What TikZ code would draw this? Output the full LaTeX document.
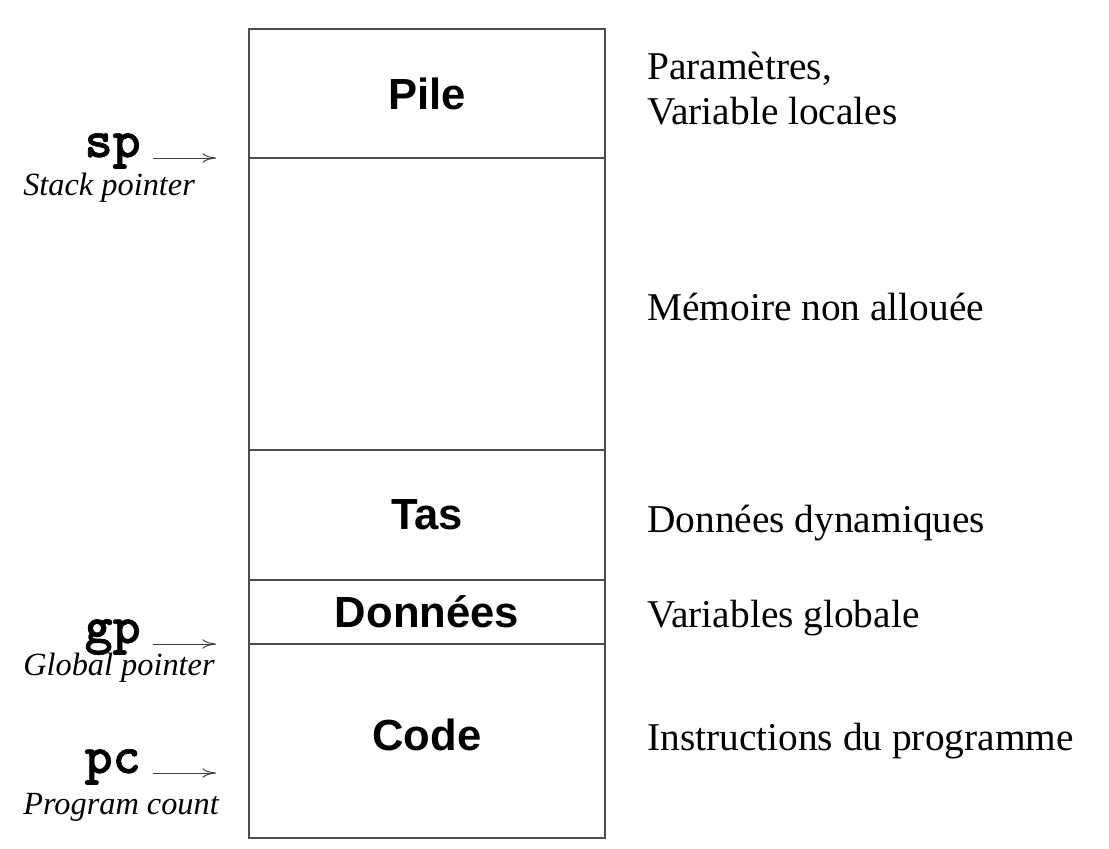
\documentclass[tikz,border=0pt]{standalone}
\usepackage{fontspec}
\setmainfont{Liberation Serif}
\setsansfont{Liberation Sans}
\newfontfamily\regfont[FakeBold=1.2]{lmmonolt10-bold.otf}
\usetikzlibrary{arrows.meta, positioning}

\begin{document}
\begin{tikzpicture}[
  x=0.025cm, y=-0.025cm,
  case/.style={
    draw=black!70, line width=0.9pt,
    minimum width=8.9cm, inner sep=0pt,
    font=\sffamily\bfseries\fontsize{31}{36}\selectfont
  },
  zone/.style={
    anchor=base west, align=left, inner sep=0pt,
    font=\rmfamily\fontsize{28}{32}\selectfont
  },
  registre/.style={
    anchor=base east, inner sep=0pt,
    font=\regfont\fontsize{38}{42}\selectfont
  },
  nomreg/.style={
    anchor=base west, inner sep=0pt,
    font=\rmfamily\itshape\fontsize{23}{26}\selectfont
  },
  fleche/.style={
    arrows={-To[length=3.4mm, width=2.4mm]},
    draw=black!75, line width=0.7pt
  }
]
\useasboundingbox (0,0) rectangle (1109,848);

% ----- Memoire -----
\node[case, minimum height=3.225cm] (pile) at (427, 93.5) {Pile};
\node[case, minimum height=7.3cm] (libre) at (427, 304) {};
\node[case, minimum height=3.25cm] (tas) at (427, 515) {Tas};
\node[case, minimum height=1.6cm] (donnees) at (427, 612) {Données};
\node[case, minimum height=4.85cm, text depth=0.3cm] (code) at (427, 741) {Code};

% ----- Description des zones -----
\node[zone] (param) at (647, 124) {Paramètres,\\Variable locales};
\node[zone] (nonalloc) at (647, 320) {Mémoire non allouée};
\node[zone] (dyn) at (647, 532) {Données dynamiques};
\node[zone] (glob) at (647, 627) {Variables globale};
\node[zone] (instr) at (647, 750) {Instructions du programme};

% ----- Registres -----
\node[registre] (sp) at (141, 157) {sp};
\node[nomreg] (spnom) at (23, 195) {Stack pointer};
\node[registre] (gp) at (141, 643) {gp};
\node[nomreg] (gpnom) at (23, 675) {Global pointer};
\node[registre] (pc) at (141, 773) {pc};
\node[nomreg] (pcnom) at (23, 814) {Program count};

\coordinate (spfin) at (216, 158);
\coordinate (gpfin) at (216, 644);
\coordinate (pcfin) at (216, 773);

\draw[fleche, shorten <=12*0.025cm] (sp.base east) ++(0,1) -- (spfin);
\draw[fleche, shorten <=12*0.025cm] (gp.base east) ++(0,1) -- (gpfin);
\draw[fleche, shorten <=12*0.025cm] (pc.base east) -- (pcfin);

\end{tikzpicture}
\end{document}
